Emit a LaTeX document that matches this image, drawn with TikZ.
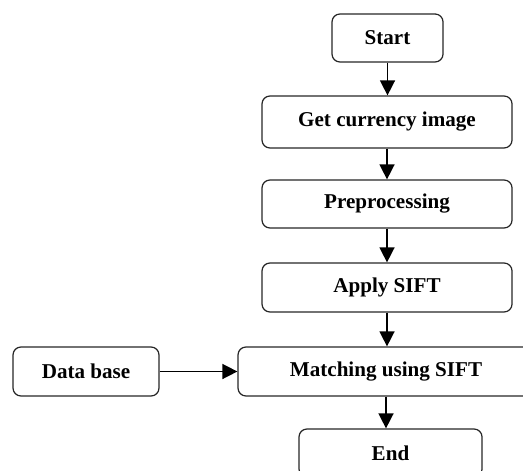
\documentclass[tikz,border=0pt]{standalone}
\usepackage{fontspec}
\setmainfont{Liberation Serif}
\usetikzlibrary{arrows.meta,positioning,calc}

\begin{document}
\begin{tikzpicture}[
    box/.style={rectangle, draw=black!85, line width=0.7pt, rounded corners=4.5pt, minimum height=0.96cm, align=center, font=\fontsize{12}{14}\selectfont\bfseries},
    arrow/.style={-{Triangle[length=0.3cm, width=0.3cm]}, line width=0.85pt}
]
\useasboundingbox (0,0) rectangle (10.46,-9.42);

% Main flow
\node[box, minimum width=2.22cm] (start) at (7.75, -0.76) {Start};
\node[box, minimum width=5cm, minimum height=1.04cm] (get) at (7.74, -2.44) {Get currency image};
\node[box, minimum width=5cm] (pre) at (7.74, -4.08) {Preprocessing};
\node[box, minimum width=5cm, minimum height=0.98cm] (sift) at (7.74, -5.75) {Apply SIFT};
\node[box, minimum width=5.92cm, minimum height=0.98cm] (match) at (7.72, -7.43) {Matching using SIFT};
\node[box, minimum width=3.66cm] (end) at (7.81, -9.06) {End};

% Database input
\node[box, minimum width=2.92cm, minimum height=0.98cm] (db) at (1.72, -7.43) {Data base};

% Arrows
\draw[arrow] (start.south) -- (start.south |- get.north);
\draw[arrow] (get.south) -- (get.south |- pre.north);
\draw[arrow] (pre.south) -- (pre.south |- sift.north);
\draw[arrow] (sift.south) -- (sift.south |- match.north);
\draw[arrow] (match.south) -- (match.south |- end.north);
\draw[arrow] (db.east) -- (match.west);

\end{tikzpicture}
\end{document}
